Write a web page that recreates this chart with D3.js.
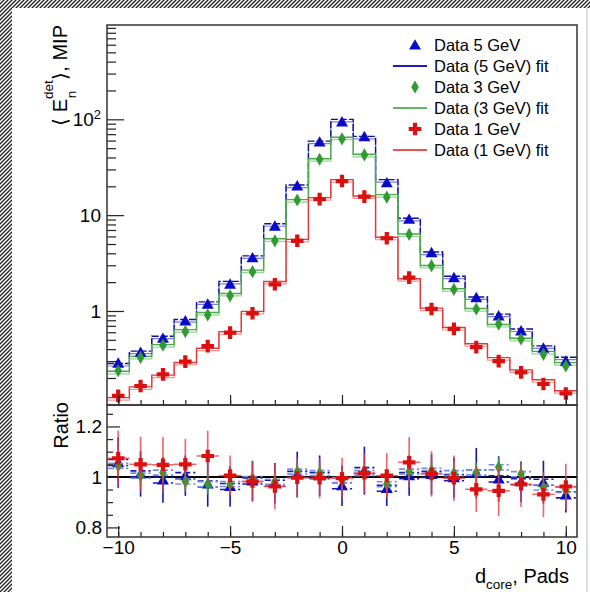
<!DOCTYPE html>
<html>
<head>
<meta charset="utf-8">
<script src="https://cdn.jsdelivr.net/npm/d3@7"></script>
<style>
body { margin: 0; background: #fff; }
svg { display: block; font-family: "Liberation Sans", Arial, Helvetica, sans-serif; }
</style>
</head>
<body>
<div id="chart"></div>
<script>
// bins (d_core in pads)
var xBins = [-10,-9,-8,-7,-6,-5,-4,-3,-2,-1,0,1,2,3,4,5,6,7,8,9,10];

// <E_n^det> per bin, MIP
var data5 = [0.286,0.37,0.52,0.79,1.18,1.91,3.6,7.7,20.2,58,94,66,21.8,9.06,4.06,2.23,1.38,0.89,0.62,0.41,0.30];
var fit5  = [0.275,0.37,0.53,0.79,1.21,1.98,3.65,7.9,20,57.5,97,64.5,22.8,9.0,4.0,2.24,1.36,0.9,0.63,0.42,0.32];
var data3 = [0.238,0.328,0.44,0.61,0.91,1.44,2.57,5.4,14.4,38.3,62.4,42.5,15.4,6.3,2.97,1.68,1.05,0.73,0.51,0.353,0.267];
var fit3  = [0.228,0.326,0.433,0.62,0.937,1.48,2.59,5.5,14.1,37.7,63.2,41.9,15.9,6.17,2.9,1.655,1.03,0.703,0.504,0.368,0.281];
var data1 = [0.13,0.165,0.218,0.296,0.43,0.594,0.946,1.9,5.4,14.7,22.7,15.6,5.74,2.23,1.05,0.65,0.42,0.30,0.229,0.173,0.138];
var fit1  = [0.121,0.157,0.208,0.282,0.397,0.591,0.963,1.975,5.42,14.8,22.8,15.4,5.71,2.11,1.04,0.653,0.442,0.317,0.236,0.186,0.143];

// data / fit ratios with errors
var ratio5 = [1.057,1.012,0.988,1.005,0.972,0.962,0.984,0.975,1.01,1.005,0.965,1.025,0.955,1.005,1.01,0.997,1.015,0.992,0.981,0.979,0.929];
var err5   = [0.10,0.09,0.09,0.08,0.09,0.08,0.08,0.08,0.09,0.08,0.08,0.095,0.07,0.08,0.08,0.08,0.1,0.09,0.08,0.085,0.07];
var ratio3 = [1.044,1.005,1.017,0.982,0.971,0.972,0.992,0.981,1.021,1.015,0.988,1.015,0.971,1.021,1.024,1.015,1.017,1.038,1.011,0.958,0.949];
var err3   = [0.04,0.04,0.04,0.04,0.04,0.04,0.04,0.04,0.04,0.04,0.04,0.04,0.04,0.04,0.04,0.04,0.04,0.04,0.04,0.04,0.04];
var ratio1 = [1.074,1.05,1.048,1.05,1.083,1.005,0.982,0.962,0.997,0.995,0.995,1.015,1.005,1.058,1.012,0.995,0.951,0.945,0.971,0.931,0.962];
var err1   = [0.11,0.11,0.11,0.1,0.1,0.08,0.08,0.09,0.08,0.08,0.08,0.08,0.09,0.1,0.09,0.09,0.09,0.1,0.09,0.09,0.09];

var fitBand = 0.03; // relative width of the fit uncertainty lines

var legendLabels = ["Data 5 GeV","Data (5 GeV) fit","Data 3 GeV","Data (3 GeV) fit","Data 1 GeV","Data (1 GeV) fit"];

var W = 590, H = 592;
var padL = 107, padR = 577, padT = 25, padM = 405, padB = 537;

var svg = d3.select("#chart").append("svg").attr("width", W).attr("height", H);

// hatched canvas border
var defs = svg.append("defs");
var pat = defs.append("pattern").attr("id","hatch").attr("patternUnits","userSpaceOnUse")
	.attr("width",4).attr("height",4);
pat.append("rect").attr("width",4).attr("height",4).attr("fill","#fff");
pat.append("path").attr("d","M-1,1 l2,-2 M0,4 l4,-4 M3,5 l2,-2").attr("stroke","#222").attr("stroke-width",1.3);
svg.append("rect").attr("x",0).attr("y",0).attr("width",W).attr("height",8).attr("fill","url(#hatch)");
svg.append("rect").attr("x",0).attr("y",0).attr("width",12).attr("height",H).attr("fill","url(#hatch)");
svg.append("line").attr("x1",587).attr("x2",587).attr("y1",8).attr("y2",H).attr("stroke","#bbb");

var x = d3.scaleLinear().domain([-10.5, 10.5]).range([padL, padR]);
var yU = d3.scaleLog().domain([0.1045, 964]).range([padM, padT]);
var yR = d3.scaleLinear().domain([0.762, 1.285]).range([padB, padM]);

var cBlue = "#0a0ac8", cGreen = "#2f9a32", cRed = "#dd1010";
var lBlue = "#1c1cc0", lGreen = "#62b862", lRed = "#e85555";

// marker shapes
var triPath = "M0,-5.8L6,4.6L-6,4.6Z";
var diaPath = "M0,-6.6L3.8,0L0,6.6L-3.8,0Z";
var crossPath = "M-2.1,-6.3h4.2v4.2h4.2v4.2h-4.2v4.2h-4.2v-4.2h-4.2v-4.2h4.2Z";

// ---------- upper pane ----------
var up = svg.append("g");

function steps(vals, k) {
	var pts = [];
	xBins.forEach(function(b, i) {
		pts.push([b - 0.5, vals[i] * k]);
		pts.push([b + 0.5, vals[i] * k]);
	});
	return pts;
}
var stepLine = d3.line().x(function(d){ return x(d[0]); }).y(function(d){ return yU(d[1]); });

function drawFit(vals, colHi, colLo, dashHi) {
	up.append("path").attr("d", stepLine(steps(vals, 1 - fitBand)))
		.attr("fill","none").attr("stroke", colLo).attr("stroke-width",1.2).attr("opacity",0.8);
	up.append("path").attr("d", stepLine(steps(vals, 1 + fitBand)))
		.attr("fill","none").attr("stroke", colHi).attr("stroke-width",1.4)
		.attr("stroke-dasharray", dashHi ? "7,2" : null);
}
drawFit(fit5, "#10109a", "#5a5ad8", true);
drawFit(fit3, "#4aa84a", "#7cc87c", false);
drawFit(fit1, "#e03a3a", "#f07a7a", false);

function drawMarkers(g, vals, yScale, shape, col) {
	g.selectAll(null).data(vals).enter().append("path")
		.attr("d", shape)
		.attr("transform", function(d, i){ return "translate(" + x(xBins[i]) + "," + yScale(d) + ")"; })
		.attr("fill", col);
}
drawMarkers(up, data5, yU, triPath, cBlue);
drawMarkers(up, data3, yU, diaPath, cGreen);
drawMarkers(up, data1, yU, crossPath, cRed);

// upper axes
var majorU = [1, 10, 100];
var minorU = yU.ticks().filter(function(v){ return majorU.indexOf(v) < 0 && Math.abs(Math.log10(v) % 1) > 1e-6; });
var axU = up.append("g").attr("transform","translate(" + padL + ",0)")
	.call(d3.axisLeft(yU).tickValues(majorU).tickSize(-17).tickPadding(6).tickFormat(function(v){ return v === 100 ? "10" : String(v); }));
axU.append("g").call(d3.axisLeft(yU).tickValues(minorU).tickSize(-9).tickFormat(""));
axU.selectAll("text").filter(function(v){ return v === 100; }).each(function(){
	d3.select(this).append("tspan").attr("dy","-0.55em").attr("font-size","13px").text("2");
});
var axUx = up.append("g").attr("transform","translate(0," + padM + ")")
	.call(d3.axisBottom(x).tickValues([-10,-5,0,5,10]).tickSize(-10).tickFormat(""));
axUx.append("g").call(d3.axisBottom(x).tickValues(xBins).tickSize(-5).tickFormat(""));

// ---------- ratio pane ----------
var lo = svg.append("g");
lo.append("line").attr("x1", x(-10.5)).attr("x2", x(10.5)).attr("y1", yR(1)).attr("y2", yR(1))
	.attr("stroke","#000").attr("stroke-width",2);

function drawRatio(vals, errs, colMark, colBar, shape, dashCol, band, barOpacity) {
	var g = lo.append("g");
	vals.forEach(function(r, i) {
		var b = xBins[i];
		if (dashCol) {
			[-band, band].forEach(function(o) {
				g.append("line").attr("x1", x(b - 0.45)).attr("x2", x(b + 0.45))
					.attr("y1", yR(r + o)).attr("y2", yR(r + o))
					.attr("stroke", dashCol).attr("stroke-width",1.6).attr("stroke-dasharray","6,3");
			});
		} else {
			g.append("line").attr("x1", x(b - 0.5)).attr("x2", x(b + 0.5))
				.attr("y1", yR(r)).attr("y2", yR(r))
				.attr("stroke", colBar).attr("stroke-width",1.5).attr("opacity", barOpacity);
		}
		g.append("line").attr("x1", x(b)).attr("x2", x(b))
			.attr("y1", yR(r - errs[i])).attr("y2", yR(r + errs[i]))
			.attr("stroke", colBar).attr("stroke-width",1.6).attr("opacity", barOpacity);
	});
	drawMarkers(g, vals, yR, shape, colMark);
}
drawRatio(ratio5, err5, cBlue, "#1414b4", triPath, "#1a1ab0", 0.012, 1);
drawRatio(ratio3, err3, cGreen, "#3aa83a", diaPath, "#7a8ae8", 0.01, 0.9);
drawRatio(ratio1, err1, cRed, "#e84040", crossPath, null, 0, 0.8);

var axR = lo.append("g").attr("transform","translate(" + padL + ",0)")
	.call(d3.axisLeft(yR).tickValues([0.8, 1, 1.2]).tickSize(-13).tickPadding(5).tickFormat(function(v){ return String(v); }));
axR.append("g").call(d3.axisLeft(yR).tickValues([0.85,0.9,0.95,1.05,1.1,1.15,1.25]).tickSize(-6).tickFormat(""));
var axRx = lo.append("g").attr("transform","translate(0," + padB + ")")
	.call(d3.axisBottom(x).tickValues([-10,-5,0,5,10]).tickSize(-11).tickPadding(4));
axRx.append("g").call(d3.axisBottom(x).tickValues(xBins).tickSize(-5).tickFormat(""));

svg.selectAll(".domain").remove();
svg.selectAll(".tick line").attr("stroke","#222").attr("stroke-width",1.2);
svg.selectAll(".tick text").attr("font-size","19px").attr("fill","#000")
	.attr("font-family","'Liberation Sans', Arial, sans-serif");

// frames
svg.append("rect").attr("x",padL).attr("y",padT).attr("width",padR-padL).attr("height",padM-padT)
	.attr("fill","none").attr("stroke","#333").attr("stroke-width",1.5);
svg.append("rect").attr("x",padL).attr("y",padM).attr("width",padR-padL).attr("height",padB-padM)
	.attr("fill","none").attr("stroke","#333").attr("stroke-width",1.5);

// axis titles
var yt = svg.append("text").attr("transform","translate(67,25) rotate(-90)")
	.attr("text-anchor","end").attr("font-size","20px");
yt.append("tspan").text("\u27E8 E");
yt.append("tspan").attr("font-size","13.5px").attr("dy",-14).text("det");
yt.append("tspan").attr("font-size","13.5px").attr("dy",23).attr("dx",-18).text("n");
yt.append("tspan").attr("dy",-9).attr("dx",11).text("\u27E9, MIP");

svg.append("text").attr("transform","translate(68,402) rotate(-90)")
	.attr("text-anchor","end").attr("font-size","20px").text("Ratio");

var xt = svg.append("text").attr("x",569).attr("y",583).attr("text-anchor","end").attr("font-size","20px");
xt.append("tspan").text("d");
xt.append("tspan").attr("font-size","13.5px").attr("dy",6).text("core");
xt.append("tspan").attr("dy",-6).text(", Pads");

// legend
var leg = svg.append("g");
var legShapes = [triPath, null, diaPath, null, crossPath, null];
var legCols = [cBlue, lBlue, cGreen, lGreen, cRed, lRed];
legendLabels.forEach(function(lab, i) {
	var yy = 45 + i * 21;
	if (legShapes[i]) {
		leg.append("path").attr("d", legShapes[i]).attr("fill", legCols[i])
			.attr("transform","translate(415," + yy + ")");
	} else {
		leg.append("line").attr("x1",393).attr("x2",427).attr("y1",yy).attr("y2",yy)
			.attr("stroke", legCols[i]).attr("stroke-width",2);
	}
	leg.append("text").attr("x",434).attr("y",yy).attr("dy","0.36em").attr("font-size","16.5px").text(lab);
});
</script>
</body>
</html>
